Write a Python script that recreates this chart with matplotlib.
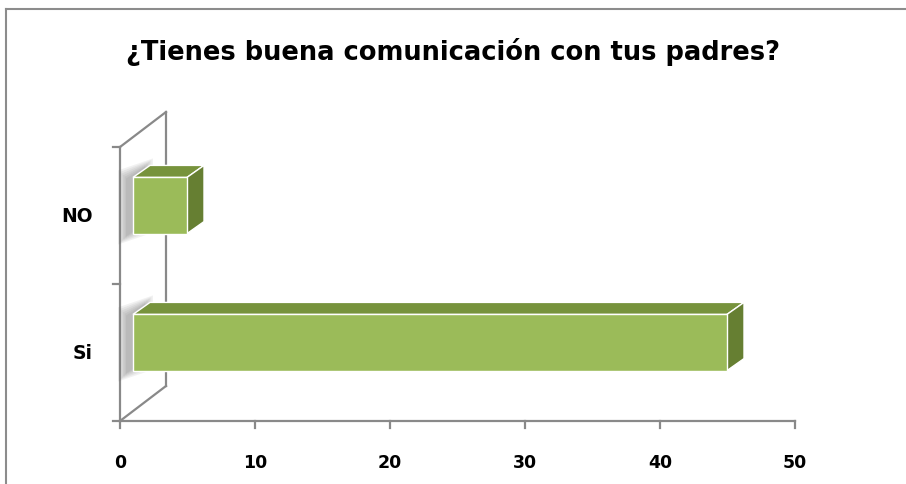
"""3D-style horizontal bar chart (Excel look) drawn with plain matplotlib."""

import matplotlib
matplotlib.use("Agg")
import matplotlib.pyplot as plt
from matplotlib.lines import Line2D
from matplotlib.patches import Polygon
from matplotlib.transforms import IdentityTransform

# ── Data ──────────────────────────────────────────────────────────────────
title = "¿Tienes buena comunicación con tus padres?"
categories = ["Si", "NO"]
values = [44, 4]
x_ticks = [0, 10, 20, 30, 40, 50]

# ── Style ─────────────────────────────────────────────────────────────────
FRONT = "#9BBB59"
TOP = "#77933C"
SIDE = "#667F32"
AXIS = "#898989"
W, H, DPI = 906, 485, 100
WALL = (46, 35)        # depth of the box, px
BAR_NEAR = (13, 10)    # front face of the bars, px behind the front plane
BAR_FAR = (30, 22)     # back face of the bars
BAR_H = 0.41

fig = plt.figure(figsize=(W / DPI, H / DPI), dpi=DPI)
fig.patch.set_facecolor("white")
ax = fig.add_axes([120 / W, 63 / H, 675 / W, 274 / H])
ax.set_xlim(0, x_ticks[-1])
ax.set_ylim(0, len(categories))
ax.axis("off")

ident = IdentityTransform()


def px(x, y, off=(0, 0)):
    X, Y = ax.transData.transform((x, y))
    return (X + off[0], Y + off[1])


def seg(p, q, lw=1.6):
    ax.add_line(Line2D([p[0], q[0]], [p[1], q[1]], transform=ident,
                       color=AXIS, lw=lw, clip_on=False))


def poly(pts, **kw):
    ax.add_patch(Polygon(pts, closed=True, transform=ident, clip_on=False, **kw))


n = len(categories)

# back wall + side diagonals
seg(px(0, 0, WALL), px(0, n, WALL))
seg(px(0, 0), px(0, 0, WALL))
seg(px(0, n), px(0, n, WALL))

# front axes
seg(px(0, 0), px(0, n))
seg(px(0, 0), px(x_ticks[-1], 0))
for t in x_ticks:
    seg(px(t, 0), px(t, 0, (0, -7)))
    ax.annotate(str(t), (t, 0), xytext=(0, -41 * 72 / DPI), textcoords="offset points",
                ha="center", va="center", fontsize=12.5, fontweight="bold")
for k in range(n + 1):
    seg(px(0, k), px(0, k, (-7, 0)))

# bars
for i, (cat, v) in enumerate(zip(categories, values)):
    c = i + 0.5
    y0, y1 = c - BAR_H / 2, c + BAR_H / 2

    # soft shadow on the back wall
    for s in range(6):
        e = 1 + s * 1.6
        sx, sy = -6, -2
        shadow = [
            (px(0, y0, BAR_NEAR)[0] + sx - e, px(0, y0, BAR_NEAR)[1] + sy - e),
            (px(0, y1, BAR_NEAR)[0] + sx - e, px(0, y1, BAR_NEAR)[1] + sy + e),
            (px(0, y1, BAR_FAR)[0] + sx + e, px(0, y1, BAR_FAR)[1] + sy + e),
            (px(0, y0, BAR_FAR)[0] + sx + e, px(0, y0, BAR_FAR)[1] + sy - e),
        ]
        poly(shadow, facecolor="#555555", edgecolor="none", alpha=0.08, zorder=2)

    front = [px(0, y0, BAR_NEAR), px(v, y0, BAR_NEAR), px(v, y1, BAR_NEAR), px(0, y1, BAR_NEAR)]
    top = [px(0, y1, BAR_NEAR), px(v, y1, BAR_NEAR), px(v, y1, BAR_FAR), px(0, y1, BAR_FAR)]
    side = [px(v, y0, BAR_NEAR), px(v, y0, BAR_FAR), px(v, y1, BAR_FAR), px(v, y1, BAR_NEAR)]
    poly(top, facecolor=TOP, edgecolor="white", lw=1.0, zorder=3)
    poly(side, facecolor=SIDE, edgecolor="white", lw=1.0, zorder=3)
    poly(front, facecolor=FRONT, edgecolor="white", lw=1.0, zorder=4)

    ax.annotate(cat, (0, c), xytext=(-27 * 72 / DPI, 0), textcoords="offset points",
                ha="right", va="center", fontsize=13.5, fontweight="bold")

fig.text(0.5, 1 - 52 / H, title, ha="center", va="center",
         fontsize=18.5, fontweight="bold")

# chart border (top and left only are visible)
fig.add_artist(Line2D([6 / W, 1], [1 - 10 / H, 1 - 10 / H], transform=fig.transFigure,
                      color="#8c8c8c", lw=1.5))
fig.add_artist(Line2D([6 / W, 6 / W], [0, 1 - 10 / H], transform=fig.transFigure,
                      color="#8c8c8c", lw=1.5))

fig.savefig("out.png", dpi=DPI, facecolor="white")
